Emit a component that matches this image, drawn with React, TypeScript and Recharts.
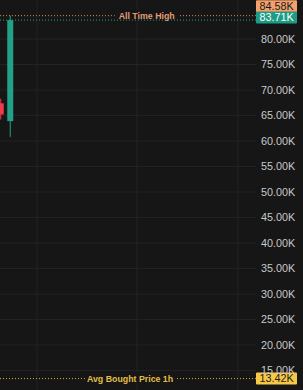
import React from 'react';
import { ComposedChart, Bar, XAxis, YAxis, CartesianGrid, ReferenceLine } from 'recharts';

// Candles (index on time axis)
const candleIndex = [0, 1];
const opens = [67400, 63900];
const highs = [68300, 84580];
const lows = [64200, 60800];
const closes = [65200, 83710];

const yTicks = [15000, 20000, 25000, 30000, 35000, 40000, 45000, 50000, 55000, 60000, 65000, 70000, 75000, 80000];
const xGridTicks = [3.84, 14.37, 25.0];

const allTimeHigh = 84580;
const lastPrice = 83710;
const avgBought = 13420;

const data = candleIndex.map((t, i) => ({
  t,
  open: opens[i],
  high: highs[i],
  low: lows[i],
  close: closes[i],
  range: [lows[i], highs[i]],
}));

const UP = '#22a187';
const DOWN = '#f23a4c';
const BG = '#161616';
const FONT = '"Liberation Sans", Arial, sans-serif';

const fmtK = (v: number) => (v / 1000).toFixed(2) + 'K';

const Candle = (props: any) => {
  const { x, y, width, height, payload } = props;
  if (!payload || height == null) return null;
  const { open, close, high, low } = payload;
  const span = high - low || 1;
  const toY = (v: number) => y + ((high - v) / span) * height;
  const color = close >= open ? UP : DOWN;
  const bodyTop = toY(Math.max(open, close));
  const bodyBot = toY(Math.min(open, close));
  const cx = x + width / 2;
  return (
    <g>
      <line x1={cx} x2={cx} y1={y} y2={y + height} stroke={color} strokeWidth={1} />
      <rect x={x} y={bodyTop} width={width} height={Math.max(1, bodyBot - bodyTop)} fill={color} />
    </g>
  );
};

const makeLineLabel = (
  text: string | null,
  textColor: string,
  centerFrac: number,
  badgeText: string,
  badgeFill: string,
  badgeTextColor: string,
  badgeShift: number
) => (props: any) => {
  const vb = props.viewBox || {};
  const x0 = vb.x ?? 0;
  const w = vb.width ?? 0;
  const ly = vb.y ?? 0;
  const tw = text ? text.length * 4.3 + 8 : 0;
  const cx = x0 + w * centerFrac;
  return (
    <g>
      {text ? (
        <g>
          <rect x={cx - tw / 2} y={ly - 6} width={tw} height={12} fill={BG} />
          <text
            x={cx}
            y={ly}
            dy="0.35em"
            textAnchor="middle"
            fill={textColor}
            fontSize={8.8}
            fontWeight={700}
            fontFamily={FONT}
          >
            {text}
          </text>
        </g>
      ) : null}
      <rect x={x0 + w} y={ly + badgeShift} width={41} height={12} fill={badgeFill} rx={1} />
      <text
        x={x0 + w + 20.5}
        y={ly + badgeShift + 6}
        dy="0.36em"
        textAnchor="middle"
        fill={badgeTextColor}
        fontSize={10.8}
        fontFamily={FONT}
      >
        {badgeText}
      </text>
    </g>
  );
};

export default function App() {
  return (
    <div style={{ position: 'absolute', left: 0, top: 0, width: 303, height: 390, background: BG }}>
      <ComposedChart
        width={303}
        height={390}
        data={data}
        margin={{ top: 0, right: 0, bottom: 0, left: 0 }}
        style={{ background: BG }}
      >
        <CartesianGrid stroke="#232323" strokeWidth={1} verticalValues={xGridTicks} horizontalValues={yTicks} />
        <XAxis dataKey="t" type="number" domain={[-0.053, 26.9]} allowDataOverflow hide ticks={xGridTicks} />
        <YAxis
          orientation="right"
          width={47}
          domain={[11180, 87650]}
          allowDataOverflow
          ticks={yTicks}
          interval={0}
          tickFormatter={fmtK}
          axisLine={false}
          tickLine={false}
          tickSize={0}
          tickMargin={5}
          tick={{ fill: '#c9c9c9', fontSize: 10.8, fontFamily: FONT }}
        />
        <Bar dataKey="range" barSize={6} shape={<Candle />} isAnimationActive={false} />
        <ReferenceLine
          y={allTimeHigh}
          stroke="#d98a63"
          strokeDasharray="1 2"
          ifOverflow="visible"
          label={makeLineLabel('All Time High', '#e39a72', 0.573, fmtK(allTimeHigh), '#f4a06c', '#1b1b1b', -15.5)}
        />
        <ReferenceLine
          y={lastPrice}
          stroke={UP}
          strokeDasharray="1 2"
          ifOverflow="visible"
          label={makeLineLabel(null, UP, 0.5, fmtK(lastPrice), '#1e9b84', '#ffffff', -8.5)}
        />
        <ReferenceLine
          y={avgBought}
          stroke="#d9b23a"
          strokeDasharray="1 2"
          ifOverflow="visible"
          label={makeLineLabel('Avg Bought Price 1h', '#e3bd45', 0.508, fmtK(avgBought), '#f7c845', '#1b1b1b', -6)}
        />
      </ComposedChart>
    </div>
  );
}
